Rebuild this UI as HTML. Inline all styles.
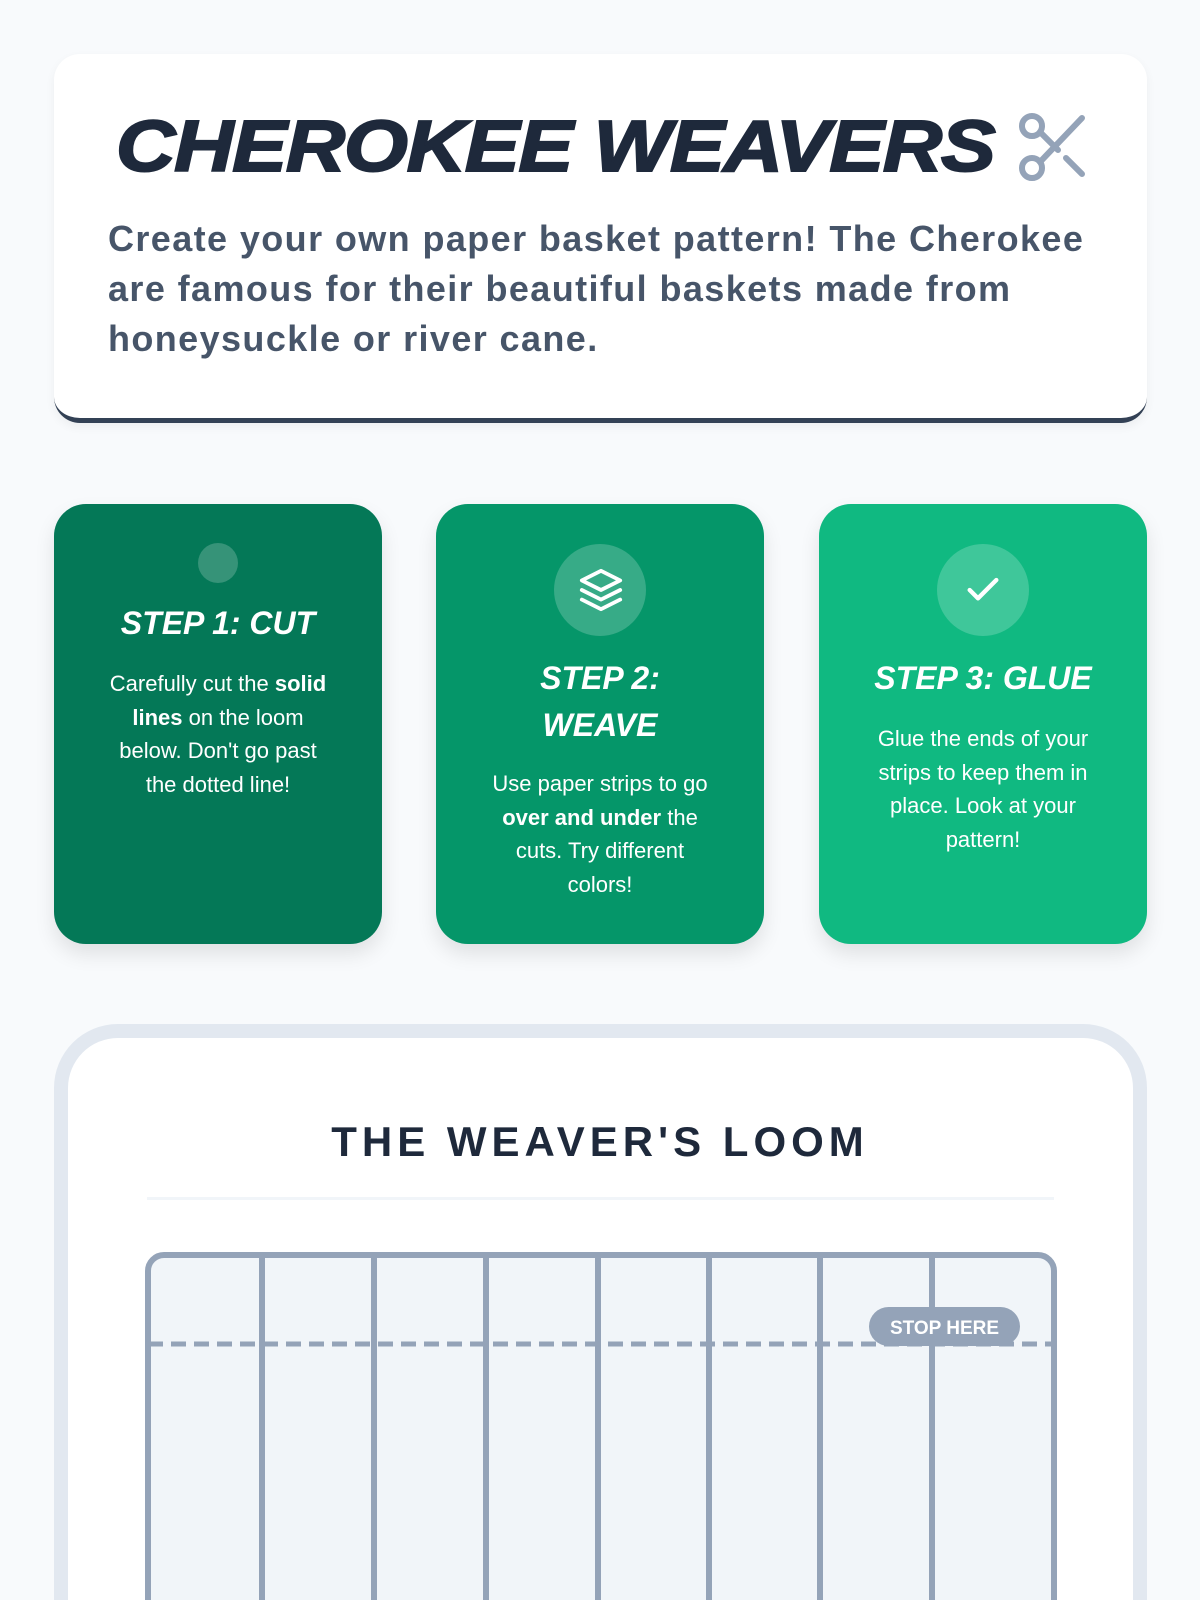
<!DOCTYPE html>
<html style="width:1200px;height:1600px;overflow:hidden"><head><meta charset="utf-8"><style>
*{margin:0;padding:0;box-sizing:border-box}
body{width:1200px;height:1600px;background:#f8fafc;font-family:"Liberation Sans",sans-serif;position:relative;overflow:hidden}
.hdr{position:absolute;left:54px;top:54px;width:1093px;height:369px;background:#fff;border-radius:26px;border-bottom:5px solid #334155;box-shadow:0 4px 10px rgba(0,0,0,.05)}
.title{position:absolute;left:116px;top:106px;font-size:72px;font-weight:900;font-style:italic;color:#1e293b;letter-spacing:-1px;white-space:nowrap;-webkit-text-stroke:2px #1e293b;transform:scaleX(1.14);transform-origin:0 0}
.para{position:absolute;left:108px;top:214px;width:1050px;font-size:36px;line-height:50px;font-weight:bold;color:#475569;white-space:nowrap;letter-spacing:1.4px}
.card{position:absolute;top:504px;width:328px;height:440px;border-radius:32px;color:#fff;text-align:center;box-shadow:0 10px 20px rgba(0,0,0,.1)}
.card h3{font-size:32px;font-style:italic;font-weight:bold;line-height:47px}
.card p{font-size:22px;line-height:33.5px;white-space:nowrap}
.circ{margin:0 auto;border-radius:50%;background:rgba(255,255,255,.2)}
.loom{position:absolute;left:54px;top:1024px;width:1093px;height:576px;border:14px solid #e2e8f0;border-bottom:none;border-radius:64px 64px 0 0;background:#fff}
</style></head><body>
<div class="hdr"></div>
<div class="title">CHEROKEE WEAVERS</div>
<svg style="position:absolute;left:1018px;top:112px" width="70" height="70" viewBox="0 0 70 70" fill="none" stroke="#94a3b8" stroke-width="6" stroke-linecap="round"><circle cx="14" cy="14" r="10"/><circle cx="14" cy="56" r="10"/><line x1="22" y1="50" x2="64" y2="6"/><line x1="22" y1="20" x2="40" y2="38"/><line x1="48" y1="46" x2="64" y2="62"/></svg>
<div class="para">Create your own paper basket pattern! The Cherokee<br>are famous for their beautiful baskets made from<br>honeysuckle or river cane.</div>

<div class="card" style="left:54px;background:#047857">
<div class="circ" style="width:40px;height:40px;margin-top:39px"></div>
<h3 style="margin-top:17px">STEP 1: CUT</h3>
<p style="margin-top:20px">Carefully cut the <b>solid</b><br><b>lines</b> on the loom<br>below. Don't go past<br>the dotted line!</p>
</div>
<div class="card" style="left:436px;background:#059669">
<div class="circ" style="width:92px;height:92px;margin-top:40px;position:relative">
<svg style="position:absolute;left:24px;top:22px" width="46" height="48" viewBox="0 0 24 24" fill="none" stroke="#fff" stroke-width="2" stroke-linejoin="round" stroke-linecap="round"><path d="M12 2L2 7l10 5 10-5-10-5z"/><path d="M2 17l10 5 10-5"/><path d="M2 12l10 5 10-5"/></svg></div>
<h3 style="margin-top:19px">STEP 2:<br>WEAVE</h3>
<p style="margin-top:18px">Use paper strips to go<br><b>over and under</b> the<br>cuts. Try different<br>colors!</p>
</div>
<div class="card" style="left:819px;background:#10b981">
<div class="circ" style="width:92px;height:92px;margin-top:40px;position:relative">
<svg style="position:absolute;left:26px;top:26px" width="40" height="40" viewBox="0 0 24 24" fill="none" stroke="#fff" stroke-width="2.6" stroke-linecap="round" stroke-linejoin="round"><path d="M4 12l5 5L20 6"/></svg></div>
<h3 style="margin-top:19px">STEP 3: GLUE</h3>
<p style="margin-top:20px">Glue the ends of your<br>strips to keep them in<br>place. Look at your<br>pattern!</p>
</div>

<div class="loom"></div>
<div style="position:absolute;left:0;width:1200px;top:1118px;text-align:center;font-size:42px;font-weight:900;letter-spacing:5px;color:#1e293b">THE WEAVER'S LOOM</div>
<div style="position:absolute;left:147px;top:1197px;width:907px;height:3px;background:#f1f5f9"></div>
<svg style="position:absolute;left:145px;top:1252px" width="912" height="348">
<rect x="3" y="3" width="906" height="400" rx="16" fill="#f1f5f9" stroke="#94a3b8" stroke-width="6"/>
<line x1="3" y1="92" x2="909" y2="92" stroke="#94a3b8" stroke-width="5" stroke-dasharray="15 8"/>
<g stroke="#94a3b8" stroke-width="6">
<line x1="117" y1="3" x2="117" y2="360"/><line x1="229" y1="3" x2="229" y2="360"/><line x1="341" y1="3" x2="341" y2="360"/><line x1="453" y1="3" x2="453" y2="360"/><line x1="564" y1="3" x2="564" y2="360"/><line x1="675" y1="3" x2="675" y2="360"/><line x1="787" y1="3" x2="787" y2="360"/></g>
<rect x="724" y="55" width="151" height="39" rx="19.5" fill="#94a3b8"/>
<text x="799.5" y="82" text-anchor="middle" font-family="Liberation Sans" font-weight="bold" font-size="19" fill="#fff">STOP HERE</text>
</svg>
</body></html>
